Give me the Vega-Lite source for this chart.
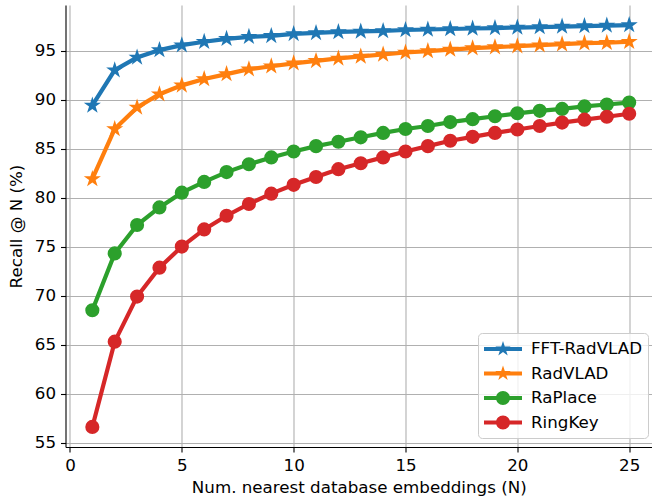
{
  "$schema": "https://vega.github.io/schema/vega-lite/v6.json",
  "width": 586.5,
  "height": 442,
  "autosize": "none",
  "padding": {"left": 65.5, "top": 5, "right": 0, "bottom": 53},
  "background": "white",
  "config": {
    "font": "DejaVu Sans",
    "view": {"stroke": null},
    "axis": {
      "labelFont": "DejaVu Sans", "labelFontSize": 16.7, "labelColor": "black",
      "titleFont": "DejaVu Sans", "titleFontSize": 16.7, "titleFontWeight": "normal", "titleColor": "black",
      "domainColor": "black", "domainWidth": 1.1, "tickColor": "black", "tickWidth": 1.1, "tickSize": 5,
      "labelPadding": 5, "gridColor": "#b0b0b0", "gridWidth": 1.1
    },
    "legend": {
      "orient": "none", "legendX": 412.5, "legendY": 328,
      "symbolSize": 400, "symbolOffset": 9, "symbolStrokeWidth": 0, "symbolOpacity": 1,
      "labelFont": "DejaVu Sans", "labelFontSize": 16.7, "labelColor": "black", "labelOffset": 18,
      "rowPadding": 5.5, "padding": 6,
      "fillColor": "rgba(255,255,255,0.8)", "strokeColor": "#cccccc", "cornerRadius": 4
    }
  },
  "data": {"values": [
    {"n":1,"s":"FFT-RadVLAD","v":89.4},{"n":2,"s":"FFT-RadVLAD","v":93.0},{"n":3,"s":"FFT-RadVLAD","v":94.3},{"n":4,"s":"FFT-RadVLAD","v":95.05},{"n":5,"s":"FFT-RadVLAD","v":95.55},
    {"n":6,"s":"FFT-RadVLAD","v":95.9},{"n":7,"s":"FFT-RadVLAD","v":96.2},{"n":8,"s":"FFT-RadVLAD","v":96.4},{"n":9,"s":"FFT-RadVLAD","v":96.5},{"n":10,"s":"FFT-RadVLAD","v":96.7},
    {"n":11,"s":"FFT-RadVLAD","v":96.8},{"n":12,"s":"FFT-RadVLAD","v":96.9},{"n":13,"s":"FFT-RadVLAD","v":96.95},{"n":14,"s":"FFT-RadVLAD","v":97.0},{"n":15,"s":"FFT-RadVLAD","v":97.1},
    {"n":16,"s":"FFT-RadVLAD","v":97.15},{"n":17,"s":"FFT-RadVLAD","v":97.2},{"n":18,"s":"FFT-RadVLAD","v":97.25},{"n":19,"s":"FFT-RadVLAD","v":97.3},{"n":20,"s":"FFT-RadVLAD","v":97.35},
    {"n":21,"s":"FFT-RadVLAD","v":97.4},{"n":22,"s":"FFT-RadVLAD","v":97.45},{"n":23,"s":"FFT-RadVLAD","v":97.5},{"n":24,"s":"FFT-RadVLAD","v":97.55},{"n":25,"s":"FFT-RadVLAD","v":97.6},
    {"n":1,"s":"RadVLAD","v":81.9},{"n":2,"s":"RadVLAD","v":87.0},{"n":3,"s":"RadVLAD","v":89.2},{"n":4,"s":"RadVLAD","v":90.55},{"n":5,"s":"RadVLAD","v":91.45},
    {"n":6,"s":"RadVLAD","v":92.1},{"n":7,"s":"RadVLAD","v":92.6},{"n":8,"s":"RadVLAD","v":93.1},{"n":9,"s":"RadVLAD","v":93.4},{"n":10,"s":"RadVLAD","v":93.7},
    {"n":11,"s":"RadVLAD","v":93.95},{"n":12,"s":"RadVLAD","v":94.2},{"n":13,"s":"RadVLAD","v":94.4},{"n":14,"s":"RadVLAD","v":94.6},{"n":15,"s":"RadVLAD","v":94.8},
    {"n":16,"s":"RadVLAD","v":94.95},{"n":17,"s":"RadVLAD","v":95.1},{"n":18,"s":"RadVLAD","v":95.25},{"n":19,"s":"RadVLAD","v":95.35},{"n":20,"s":"RadVLAD","v":95.45},
    {"n":21,"s":"RadVLAD","v":95.55},{"n":22,"s":"RadVLAD","v":95.65},{"n":23,"s":"RadVLAD","v":95.75},{"n":24,"s":"RadVLAD","v":95.8},{"n":25,"s":"RadVLAD","v":95.9},
    {"n":1,"s":"RaPlace","v":68.5},{"n":2,"s":"RaPlace","v":74.3},{"n":3,"s":"RaPlace","v":77.2},{"n":4,"s":"RaPlace","v":79.0},{"n":5,"s":"RaPlace","v":80.5},
    {"n":6,"s":"RaPlace","v":81.6},{"n":7,"s":"RaPlace","v":82.6},{"n":8,"s":"RaPlace","v":83.4},{"n":9,"s":"RaPlace","v":84.1},{"n":10,"s":"RaPlace","v":84.7},
    {"n":11,"s":"RaPlace","v":85.25},{"n":12,"s":"RaPlace","v":85.7},{"n":13,"s":"RaPlace","v":86.15},{"n":14,"s":"RaPlace","v":86.6},{"n":15,"s":"RaPlace","v":87.0},
    {"n":16,"s":"RaPlace","v":87.3},{"n":17,"s":"RaPlace","v":87.7},{"n":18,"s":"RaPlace","v":88.0},{"n":19,"s":"RaPlace","v":88.3},{"n":20,"s":"RaPlace","v":88.6},
    {"n":21,"s":"RaPlace","v":88.85},{"n":22,"s":"RaPlace","v":89.05},{"n":23,"s":"RaPlace","v":89.3},{"n":24,"s":"RaPlace","v":89.5},{"n":25,"s":"RaPlace","v":89.7},
    {"n":1,"s":"RingKey","v":56.6},{"n":2,"s":"RingKey","v":65.3},{"n":3,"s":"RingKey","v":69.9},{"n":4,"s":"RingKey","v":72.85},{"n":5,"s":"RingKey","v":75.0},
    {"n":6,"s":"RingKey","v":76.75},{"n":7,"s":"RingKey","v":78.15},{"n":8,"s":"RingKey","v":79.35},{"n":9,"s":"RingKey","v":80.4},{"n":10,"s":"RingKey","v":81.3},
    {"n":11,"s":"RingKey","v":82.1},{"n":12,"s":"RingKey","v":82.9},{"n":13,"s":"RingKey","v":83.5},{"n":14,"s":"RingKey","v":84.1},{"n":15,"s":"RingKey","v":84.7},
    {"n":16,"s":"RingKey","v":85.25},{"n":17,"s":"RingKey","v":85.8},{"n":18,"s":"RingKey","v":86.2},{"n":19,"s":"RingKey","v":86.6},{"n":20,"s":"RingKey","v":86.95},
    {"n":21,"s":"RingKey","v":87.3},{"n":22,"s":"RingKey","v":87.65},{"n":23,"s":"RingKey","v":87.95},{"n":24,"s":"RingKey","v":88.25},{"n":25,"s":"RingKey","v":88.55}
  ]},
  "encoding": {
    "x": {"field": "n", "type": "quantitative", "scale": {"domain": [-0.2, 26.02], "nice": false, "zero": false},
          "axis": {"values": [0,5,10,15,20,25], "format": "d", "title": "Num. nearest database embeddings (N)", "titlePadding": 6}},
    "y": {"field": "v", "type": "quantitative", "scale": {"domain": [54.55, 99.65], "nice": false, "zero": false},
          "axis": {"values": [55,60,65,70,75,80,85,90,95], "format": "d", "title": "Recall @ N (%)", "titlePadding": 9}},
    "color": {"field": "s", "type": "nominal",
              "scale": {"domain": ["FFT-RadVLAD","RadVLAD","RaPlace","RingKey"], "range": ["#1f77b4","#ff7f0e","#2ca02c","#d62728"]},
              "legend": {"title": null}}
  },
  "layer": [
    {
      "mark": {"type": "line", "strokeWidth": 4.2, "strokeCap": "square"}
    },
    {
      "mark": {"type": "point", "filled": true, "opacity": 0, "size": 400},
      "encoding": {
        "shape": {"field": "s", "type": "nominal", "legend": {"title": null},
                  "scale": {"domain": ["FFT-RadVLAD","RadVLAD","RaPlace","RingKey"],
                            "range": [
                              "M-1.9,-0.21 H1.9 V0.21 H-1.9 Z M0,-0.8 L0.1796,-0.2472 L0.7608,-0.2472 L0.2906,0.0944 L0.4702,0.6472 L0,0.3056 L-0.4702,0.6472 L-0.2906,0.0944 L-0.7608,-0.2472 L-0.1796,-0.2472 Z",
                              "M-1.9,-0.21 H1.9 V0.21 H-1.9 Z M0,-0.8 L0.1796,-0.2472 L0.7608,-0.2472 L0.2906,0.0944 L0.4702,0.6472 L0,0.3056 L-0.4702,0.6472 L-0.2906,0.0944 L-0.7608,-0.2472 L-0.1796,-0.2472 Z",
                              "M-1.9,-0.21 H1.9 V0.21 H-1.9 Z M-0.7,0 A0.7,0.7 0 1,1 0.7,0 A0.7,0.7 0 1,1 -0.7,0 Z",
                              "M-1.9,-0.21 H1.9 V0.21 H-1.9 Z M-0.7,0 A0.7,0.7 0 1,1 0.7,0 A0.7,0.7 0 1,1 -0.7,0 Z"]}}
      }
    },
    {
      "transform": [{"filter": "datum.s == 'FFT-RadVLAD' || datum.s == 'RadVLAD'"}],
      "mark": {"type": "point", "filled": true, "opacity": 1, "size": 240,
               "shape": "M0,-1.16 L0.26,-0.358 L1.103,-0.358 L0.421,0.137 L0.682,0.938 L0,0.443 L-0.682,0.938 L-0.421,0.137 L-1.103,-0.358 L-0.26,-0.358 Z"}
    },
    {
      "transform": [{"filter": "datum.s == 'RaPlace' || datum.s == 'RingKey'"}],
      "mark": {"type": "point", "filled": true, "opacity": 1, "size": 200, "shape": "circle"}
    },
    {
      "data": {"values": [{}]},
      "mark": {"type": "rule", "color": "black", "strokeWidth": 1.1},
      "encoding": {"y": {"datum": 99.65}, "x": null, "color": null}
    }
  ]
}
